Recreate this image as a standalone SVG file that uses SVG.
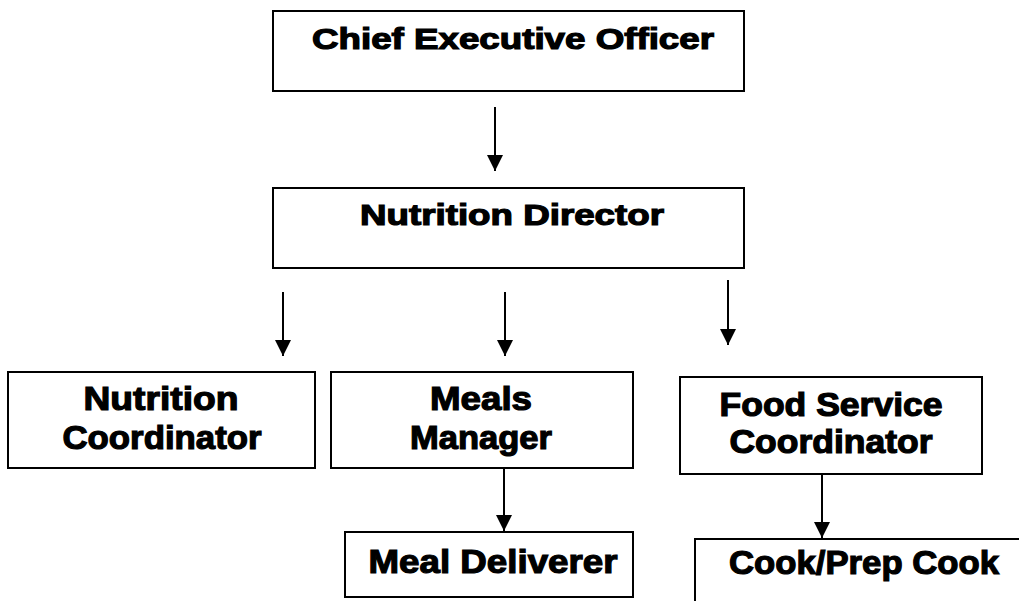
<svg xmlns="http://www.w3.org/2000/svg" width="1019" height="601" viewBox="0 0 1019 601">
<style>
.box{fill:#fff;stroke:#000;stroke-width:2}
.t{font-family:"Liberation Sans",Arial,sans-serif;font-weight:bold;fill:#000;stroke:#000;stroke-width:1.2;text-anchor:middle}
.top{font-size:29px}
.low{font-size:33px}
.con{stroke:#000;stroke-width:2;fill:none}
</style>
<defs>
<marker id="ah" markerUnits="userSpaceOnUse" markerWidth="16" markerHeight="16" refX="16" refY="8" orient="auto">
<path d="M0,0 L16,8 L0,16 z" fill="#000"/>
</marker>
</defs>
<rect width="1019" height="601" fill="#fff"/>
<g id="connectors">
<line class="con" x1="495" y1="107" x2="495" y2="171" marker-end="url(#ah)"/>
<line class="con" x1="283" y1="292" x2="283" y2="356" marker-end="url(#ah)"/>
<line class="con" x1="505" y1="292" x2="505" y2="356" marker-end="url(#ah)"/>
<line class="con" x1="728" y1="280" x2="728" y2="345" marker-end="url(#ah)"/>
<line class="con" x1="504" y1="468" x2="504" y2="531" marker-end="url(#ah)"/>
<line class="con" x1="822" y1="474" x2="822" y2="538" marker-end="url(#ah)"/>
</g>
<g id="ceo">
<rect class="box" x="273" y="11" width="471" height="80"/>
<text class="t top" x="513" y="49" textLength="402" lengthAdjust="spacingAndGlyphs">Chief Executive Officer</text>
</g>
<g id="nutrition-director">
<rect class="box" x="273" y="188" width="471" height="80"/>
<text class="t top" x="512" y="225" textLength="304" lengthAdjust="spacingAndGlyphs">Nutrition Director</text>
</g>
<g id="nutrition-coordinator">
<rect class="box" x="8" y="372" width="307" height="96"/>
<text class="t low" x="161" y="410" textLength="155" lengthAdjust="spacingAndGlyphs">Nutrition</text>
<text class="t low" x="162" y="449" textLength="199" lengthAdjust="spacingAndGlyphs">Coordinator</text>
</g>
<g id="meals-manager">
<rect class="box" x="331" y="372" width="302" height="96"/>
<text class="t low" x="481" y="410" textLength="102" lengthAdjust="spacingAndGlyphs">Meals</text>
<text class="t low" x="481" y="449" textLength="142" lengthAdjust="spacingAndGlyphs">Manager</text>
</g>
<g id="food-service-coordinator">
<rect class="box" x="680" y="377" width="302" height="97"/>
<text class="t low" x="831" y="416" textLength="223" lengthAdjust="spacingAndGlyphs">Food Service</text>
<text class="t low" x="831" y="453" textLength="203" lengthAdjust="spacingAndGlyphs">Coordinator</text>
</g>
<g id="meal-deliverer">
<rect class="box" x="345" y="532" width="288" height="65"/>
<text class="t low" x="493" y="573" textLength="249" lengthAdjust="spacingAndGlyphs">Meal Deliverer</text>
</g>
<g id="cook-prep-cook">
<path class="box" d="M695,602 V539 H1020"/>
<text class="t low" x="864" y="574" textLength="270" lengthAdjust="spacingAndGlyphs">Cook/Prep Cook</text>
</g>
</svg>
